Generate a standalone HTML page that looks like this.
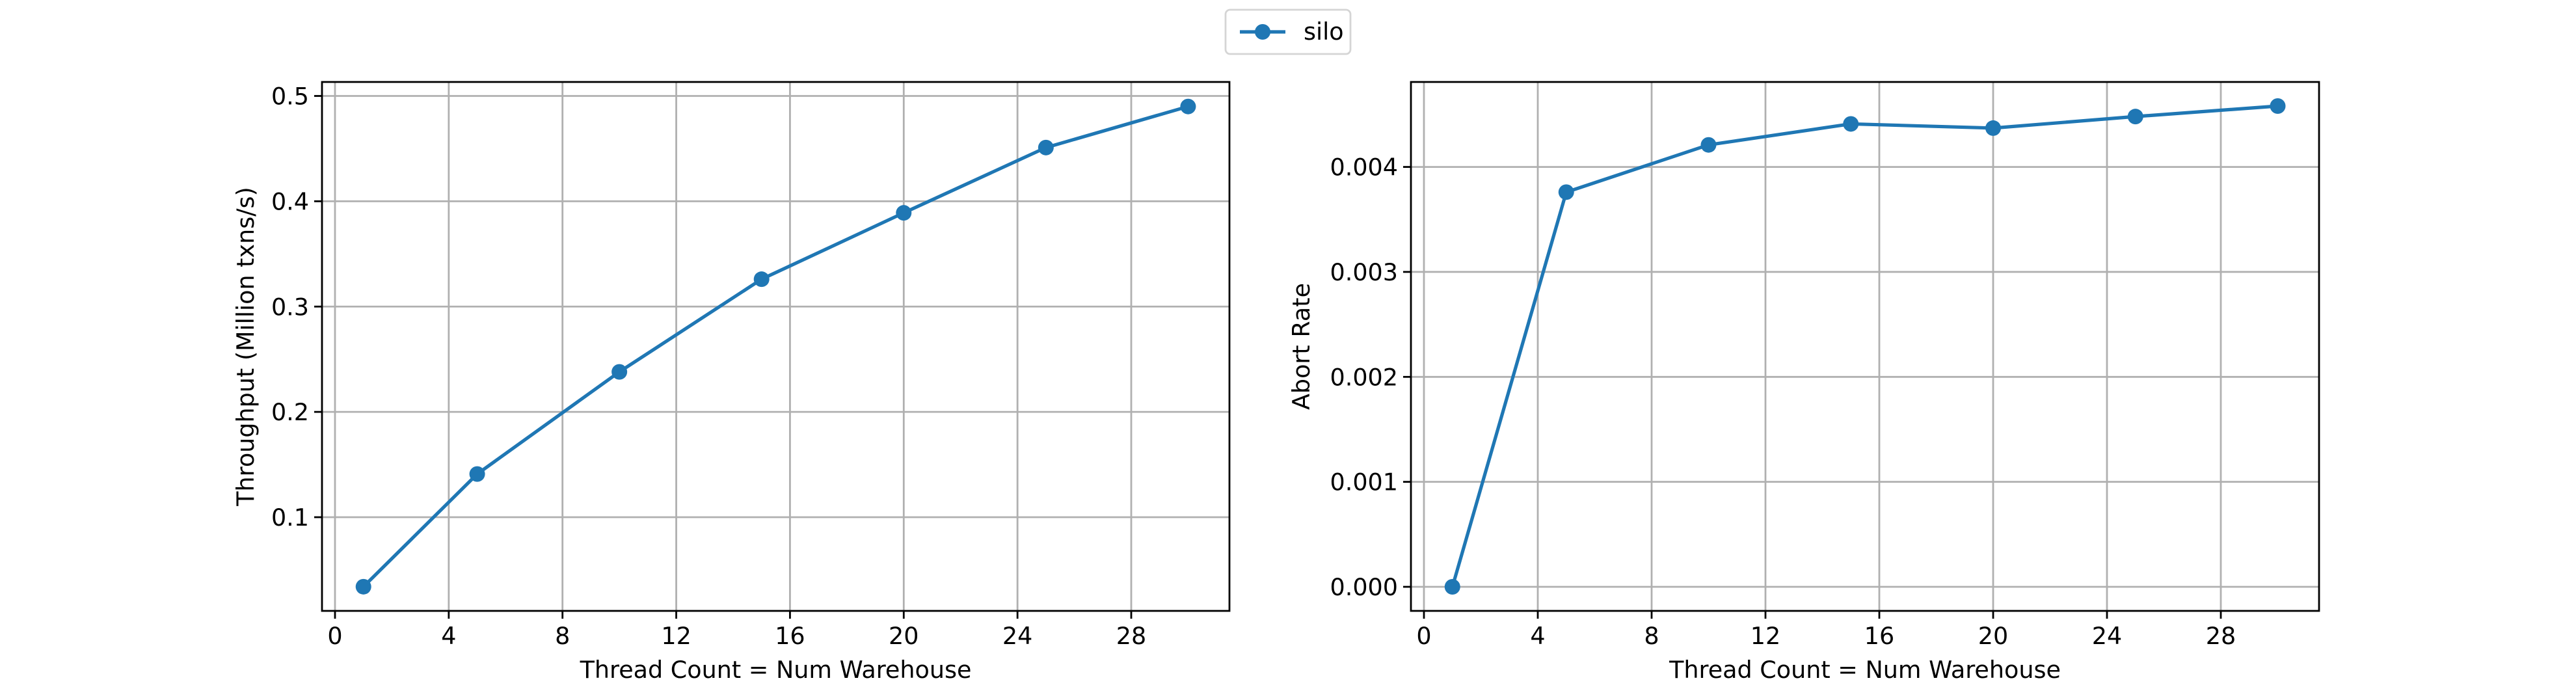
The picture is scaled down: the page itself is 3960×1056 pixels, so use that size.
<!DOCTYPE html>
<html><head><meta charset="utf-8"><style>
html,body{margin:0;padding:0;background:#fff;}
svg{display:block;font-family:"DejaVu Sans","Liberation Sans",sans-serif;}
</style></head><body>
<svg id="fig" width="3960" height="1056" viewBox="0 0 3960 1056" xmlns="http://www.w3.org/2000/svg">
<g>
<rect x="1884" y="15" width="192" height="68" rx="7" fill="#fff" stroke="#d5d5d5" stroke-width="2.8"/>
<line x1="1906" y1="49" x2="1976" y2="49" stroke="#1f77b4" stroke-width="5.2"/>
<circle cx="1941" cy="49" r="12" fill="#1f77b4"/>
<text x="2004" y="61" font-size="36.5" fill="#000">silo</text>
</g>
</svg>
<script>
const threads = [1, 5, 10, 15, 20, 25, 30];
const throughput = [0.034, 0.141, 0.238, 0.326, 0.389, 0.451, 0.490];
const abortRate = [0.0, 0.00376, 0.00421, 0.00441, 0.00437, 0.00448, 0.00458];
const xTicks = [0, 4, 8, 12, 16, 20, 24, 28];
const yTicksLeft = [0.1, 0.2, 0.3, 0.4, 0.5];
const yTickLabelsLeft = ["0.1", "0.2", "0.3", "0.4", "0.5"];
const yTicksRight = [0, 0.001, 0.002, 0.003, 0.004];
const yTickLabelsRight = ["0.000", "0.001", "0.002", "0.003", "0.004"];

const NS = "http://www.w3.org/2000/svg";
const svg = document.getElementById("fig");
function mk(tag, attrs, parent) {
  const e = document.createElementNS(NS, tag);
  for (const k in attrs) e.setAttribute(k, attrs[k]);
  parent.appendChild(e);
  return e;
}
function panel(cfg) {
  const g = mk("g", {}, svg);
  
  
  const sx = v => cfg.x0px + (v - 0) * (cfg.x28px - cfg.x0px) / 28;
  const sy = v => cfg.yApx + (v - cfg.yA) * (cfg.yBpx - cfg.yApx) / (cfg.yB - cfg.yA);
  xTicks.forEach(t => {
    const l = mk("line", {x1: sx(t), x2: sx(t), y1: cfg.top, y2: cfg.bottom, stroke: "#b0b0b0", "stroke-width": 2.8}, g);
    
    
    const tk = mk("line", {x1: sx(t), x2: sx(t), y1: cfg.bottom, y2: cfg.bottom + 12, stroke: "#000", "stroke-width": 2.8}, g);
    
    
    const tx = mk("text", {x: sx(t), y: cfg.bottom + 51, "font-size": 36.5, "text-anchor": "middle"}, g);
    tx.textContent = String(t);
    
    
  });
  cfg.yTicks.forEach((t, i) => {
    const l = mk("line", {x1: cfg.left, x2: cfg.right, y1: sy(t), y2: sy(t), stroke: "#b0b0b0", "stroke-width": 2.8}, g);
    
    
    const tk = mk("line", {x1: cfg.left - 12, x2: cfg.left, y1: sy(t), y2: sy(t), stroke: "#000", "stroke-width": 2.8}, g);
    
    
    const tx = mk("text", {x: cfg.left - 20, y: sy(t) + 13, "font-size": 36.5, "text-anchor": "end"}, g);
    tx.textContent = cfg.yLabels[i];
    
    
  });
  const fr = mk("rect", {x: cfg.left, y: cfg.top, width: cfg.right - cfg.left, height: cfg.bottom - cfg.top, fill: "none", stroke: "#000", "stroke-width": 2.8}, g);
  
  
  const pts = threads.map((t, i) => sx(t) + "," + sy(cfg.values[i])).join(" ");
  const pl = mk("polyline", {points: pts, fill: "none", stroke: "#1f77b4", "stroke-width": 5.2, "stroke-linejoin": "round"}, g);
  
  
  threads.forEach((t, i) => {
    const c = mk("circle", {cx: sx(t), cy: sy(cfg.values[i]), r: 12, fill: "#1f77b4"}, g);
    
    
  });
  const xl = mk("text", {x: (cfg.left + cfg.right) / 2, y: 1042, "font-size": 36.5, "text-anchor": "middle"}, g);
  xl.textContent = "Thread Count = Num Warehouse";
  
  
  const yl = mk("text", {x: 0, y: 0, "font-size": 36.5, "text-anchor": "middle", transform: `translate(${cfg.ylabelX},${(cfg.top + cfg.bottom) / 2}) rotate(-90)`}, g);
  yl.textContent = cfg.ylabel;
  
  
}
panel({name: "throughput-chart", left: 495, right: 1890, top: 126, bottom: 939, x0px: 515, x28px: 1739,
  yA: 0.1, yApx: 795, yB: 0.5, yBpx: 147.5, yTicks: yTicksLeft, yLabels: yTickLabelsLeft,
  values: throughput, ylabel: "Throughput (Million txns/s)", ylabelX: 390});
panel({name: "abort-rate-chart", left: 2169, right: 3565, top: 126, bottom: 939, x0px: 2189, x28px: 3414,
  yA: 0, yApx: 902, yB: 0.004, yBpx: 256.6, yTicks: yTicksRight, yLabels: yTickLabelsRight,
  values: abortRate, ylabel: "Abort Rate", ylabelX: 2013});
</script>
</body></html>
